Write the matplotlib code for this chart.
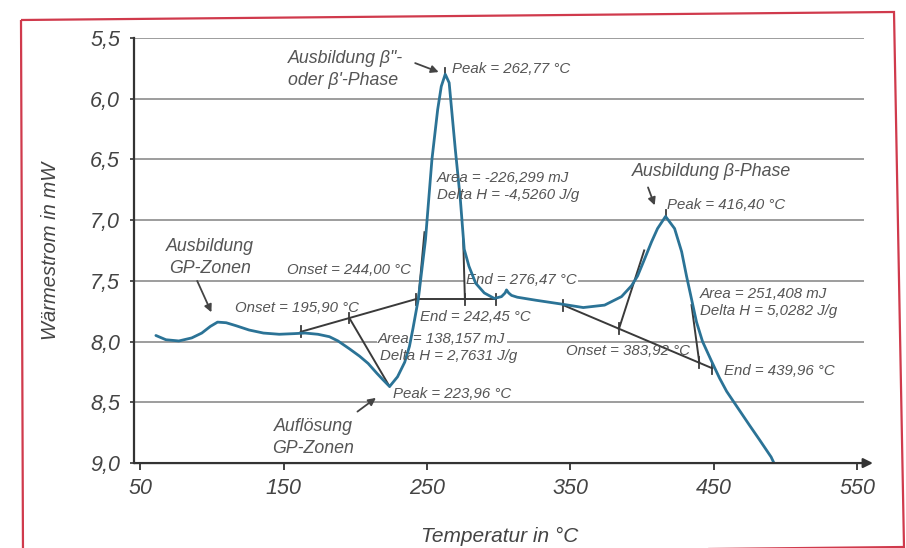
import matplotlib
matplotlib.use('Agg')
import matplotlib.pyplot as plt
from matplotlib.patches import Polygon

plt.rcParams['font.family'] = ['Liberation Sans', 'DejaVu Sans']
plt.rcParams['font.style'] = 'italic'

# DSC curve: temperature in °C, heat flow in mW (plotted downward)
temp = [61, 68, 77, 86, 93, 99, 104, 110, 117, 126, 136, 147, 157, 165, 174,
        182, 188, 196, 203, 209, 215, 219, 223.96, 229.5, 234.5, 237.8, 240.3,
        244.0, 249.0, 253.5, 257.5, 260.0, 262.77, 265.5, 269.8, 273.3, 276.0,
        279.3, 284, 290, 297, 302, 304.5, 305.5, 307, 309, 313, 326, 343, 359,
        373.9, 385.7, 392.7, 396.9, 401.8, 406.6, 410.8, 416.4, 422.7, 427.6,
        431.0, 434.5, 438.0, 442.2, 448.4, 454, 459, 467, 475, 482, 490, 492]
flow = [7.95, 7.985, 7.995, 7.97, 7.93, 7.875, 7.84, 7.845, 7.87, 7.905, 7.93,
        7.94, 7.935, 7.93, 7.94, 7.96, 7.995, 8.06, 8.12, 8.18, 8.26, 8.31, 8.37,
        8.29, 8.17, 8.04, 7.89, 7.65, 7.16, 6.5, 6.09, 5.9, 5.80, 5.87, 6.42,
        6.83, 7.24, 7.38, 7.52, 7.6, 7.645, 7.63, 7.6, 7.575, 7.6, 7.62, 7.635,
        7.66, 7.69, 7.72, 7.70, 7.63, 7.54, 7.46, 7.32, 7.18, 7.07, 6.97, 7.07,
        7.26, 7.46, 7.65, 7.84, 8.0, 8.16, 8.3, 8.41, 8.55, 8.69, 8.81, 8.95, 9.0]

# evaluation lines (baselines and tangents)
base1_t = [162, 242.45]
base1_y = [7.92, 7.65]
tang1_t = [195.90, 223.96]
tang1_y = [7.806, 8.37]
flat_t = [242.45, 298]
flat_y = [7.65, 7.65]
onset2_t = [244.00, 248.3]
onset2_y = [7.65, 7.10]
end2_t = [275.3, 276.47]
end2_y = [7.16, 7.65]
base3_t = [345, 449]
base3_y = [7.70, 8.22]
tang3a_t = [383.92, 401.5]
tang3a_y = [7.895, 7.25]
tang3b_t = [439.96, 434.5]
tang3b_y = [8.175, 7.70]
tick_t = [162, 195.90, 242.45, 276.47, 298, 345, 383.92, 439.96, 449]
tick_y = [7.92, 7.806, 7.65, 7.65, 7.65, 7.70, 7.895, 8.175, 8.22]
peak_t = [262.77, 416.40]
peak_y = [5.80, 6.97]

xticks = [50, 150, 250, 350, 450, 550]
yticks = [5.5, 6.0, 6.5, 7.0, 7.5, 8.0, 8.5, 9.0]
ytick_labels = ['5,5', '6,0', '6,5', '7,0', '7,5', '8,0', '8,5', '9,0']

blue = '#2b7396'
dark = '#3a3a3a'
txt = '#555555'
grid = '#8c8c8c'

fig = plt.figure(figsize=(9.06, 5.48), dpi=100)
ax = fig.add_axes([0.148, 0.155, 0.806, 0.776])

# red frame around the figure
fig.patches.append(Polygon([(21 / 906, 1 - 20 / 548), (894 / 906, 1 - 12 / 548),
                            (904 / 906, 1 - 547 / 548), (23 / 906, 1 - 556 / 548)],
                           closed=True, fill=False, edgecolor='#d03a4c', lw=1.6,
                           transform=fig.transFigure, figure=fig))

ax.set_xlim(45.8, 555)
ax.set_ylim(9.0, 5.5)
ax.hlines(yticks[:-1], 45.8, 555, color=grid, lw=1.2, zorder=0.5)

ax.plot(temp, flow, color=blue, lw=2.0, zorder=3, solid_capstyle='round')

for xs, ys in [(base1_t, base1_y), (tang1_t, tang1_y), (flat_t, flat_y),
               (onset2_t, onset2_y), (end2_t, end2_y), (base3_t, base3_y),
               (tang3a_t, tang3a_y), (tang3b_t, tang3b_y)]:
    ax.plot(xs, ys, color=dark, lw=1.4, zorder=2.5)
for t, y in zip(tick_t, tick_y):
    ax.plot([t, t], [y - 0.045, y + 0.045], color=dark, lw=1.3, zorder=2.5)
for t, y in zip(peak_t, peak_y):
    ax.plot([t, t], [y - 0.05, y], color=dark, lw=1.3, zorder=2.5)

# axes styling
for s in ['top', 'right', 'bottom']:
    ax.spines[s].set_visible(False)
ax.spines['left'].set_color('#333333')
ax.spines['left'].set_linewidth(1.6)
ax.annotate('', xy=(561, 9.0), xytext=(45.8, 9.0), annotation_clip=False,
            arrowprops=dict(arrowstyle='-|>', color='#333333', lw=1.6,
                            mutation_scale=14, shrinkA=0, shrinkB=0))
ax.set_xticks(xticks)
ax.set_xticklabels([str(v) for v in xticks])
ax.set_yticks(yticks)
ax.set_yticklabels(ytick_labels)
ax.tick_params(axis='x', length=5, width=1.3, color='#333333', pad=6,
               labelsize=15.5, labelcolor='#444444')
ax.tick_params(axis='y', length=3, width=1.2, color='#333333', pad=7,
               labelsize=15.5, labelcolor='#444444')
ax.set_xlabel('Temperatur in °C', fontsize=15, color='#444444', labelpad=20)
ax.set_ylabel('Wärmestrom in mW', fontsize=14.5, color='#444444', labelpad=22)

# annotations
big = 12.8
small = 10.8
ax.text(153, 5.76, 'Ausbildung β"-\noder β\'-Phase', fontsize=big, color=txt,
        va='center', ha='left', linespacing=1.4)
ax.annotate('', xy=(260, 5.79), xytext=(240, 5.70),
            arrowprops=dict(arrowstyle='-|>', color='#444444', lw=1.3, mutation_scale=11))
ax.text(267.6, 5.76, 'Peak = 262,77 °C', fontsize=small, color=txt, va='center')
ax.text(257, 6.65, 'Area = -226,299 mJ', fontsize=small, color=txt, va='center')
ax.text(257, 6.79, 'Delta H = -4,5260 J/g', fontsize=small, color=txt, va='center')

ax.text(393, 6.60, 'Ausbildung β-Phase', fontsize=big, color=txt, va='center')
ax.annotate('', xy=(409.5, 6.90), xytext=(403.5, 6.71),
            arrowprops=dict(arrowstyle='-|>', color='#444444', lw=1.3, mutation_scale=11))
ax.text(417.5, 6.88, 'Peak = 416,40 °C', fontsize=small, color=txt, va='center')

ax.text(98.8, 7.31, 'Ausbildung\nGP-Zonen', fontsize=big, color=txt,
        va='center', ha='center', linespacing=1.4)
ax.annotate('', xy=(100.5, 7.78), xytext=(89, 7.48),
            arrowprops=dict(arrowstyle='-|>', color='#444444', lw=1.3, mutation_scale=11))

ax.text(152.5, 7.41, 'Onset = 244,00 °C', fontsize=small, color=txt, va='center')
ax.text(277.3, 7.49, 'End = 276,47 °C', fontsize=small, color=txt, va='center',
        zorder=1, bbox=dict(boxstyle='square,pad=0.1', fc='white', ec='none'))
ax.text(116.2, 7.72, 'Onset = 195,90 °C', fontsize=small, color=txt, va='center')
ax.text(245.2, 7.80, 'End = 242,45 °C', fontsize=small, color=txt, va='center')
ax.text(216, 7.975, 'Area = 138,157 mJ', fontsize=small, color=txt, va='center',
        zorder=1, bbox=dict(boxstyle='square,pad=0.1', fc='white', ec='none'))
ax.text(217.4, 8.12, 'Delta H = 2,7631 J/g', fontsize=small, color=txt, va='center')

ax.text(440.5, 7.61, 'Area = 251,408 mJ', fontsize=small, color=txt, va='center')
ax.text(440.5, 7.75, 'Delta H = 5,0282 J/g', fontsize=small, color=txt, va='center')
ax.text(347, 8.08, 'Onset = 383,92 °C', fontsize=small, color=txt, va='center')
ax.text(457.2, 8.245, 'End = 439,96 °C', fontsize=small, color=txt, va='center')
ax.text(226.4, 8.43, 'Peak = 223,96 °C', fontsize=small, color=txt, va='center')

ax.text(170.6, 8.79, 'Auflösung\nGP-Zonen', fontsize=big, color=txt,
        va='center', ha='center', linespacing=1.4)
ax.annotate('', xy=(216, 8.45), xytext=(200, 8.59),
            arrowprops=dict(arrowstyle='-|>', color='#444444', lw=1.3, mutation_scale=11))

fig.savefig('out.png', dpi=100)
